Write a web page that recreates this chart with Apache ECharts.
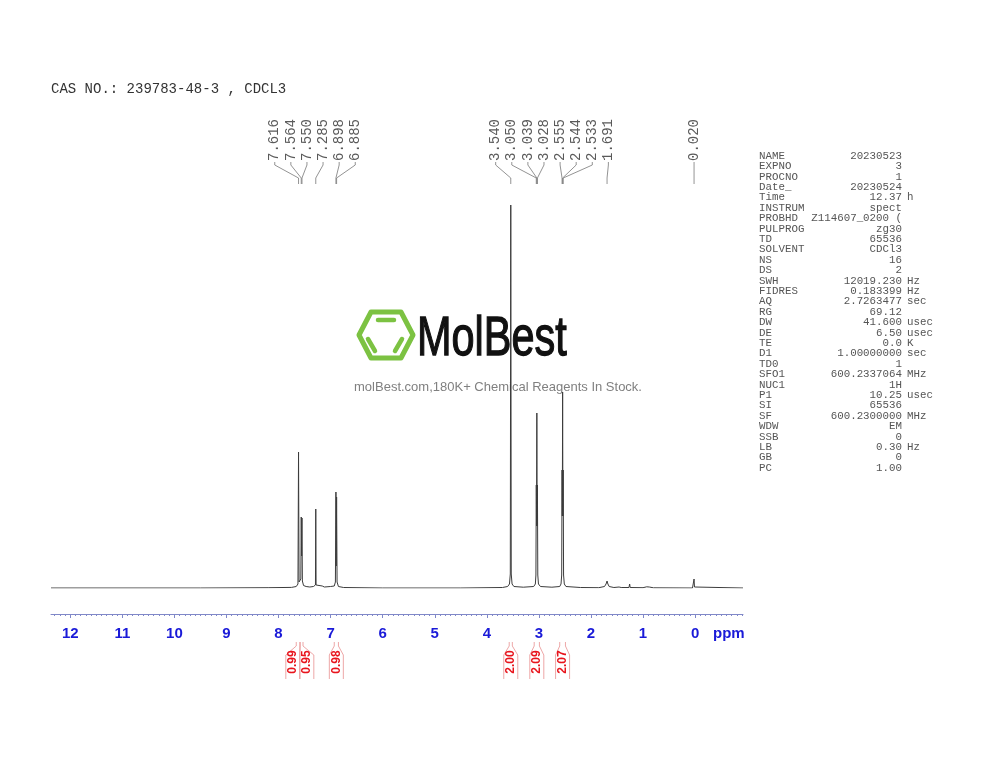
<!DOCTYPE html>
<html><head><meta charset="utf-8">
<script src="https://cdn.jsdelivr.net/npm/echarts@6/dist/echarts.min.js"></script>
<style>html,body{margin:0;padding:0;background:#fff}#c{width:1000px;height:773px}</style>
</head><body><div id="c"></div>
<script>
// ---------- data ----------
const titleText = 'CAS NO.: 239783-48-3 , CDCL3';
// spectrum points [ppm, intensity]
const spectrumPoints = [
  [12.37,0],[9.5,0],[8.2,0.3],[7.75,0.6],[7.66,1.5],[7.627,4],[7.616,136],[7.606,6],[7.585,4],[7.572,9],[7.564,71],[7.557,32],[7.550,70],[7.542,7],[7.52,2.5],
  [7.47,1.5],[7.44,2.5],[7.40,1],[7.33,1.5],[7.291,3],[7.285,79],[7.279,3],[7.25,1],[7.16,2],[7.12,1],[7.0,1.5],[6.93,2],[6.908,6],[6.898,96],[6.892,22],[6.885,91],[6.876,6],[6.85,1.5],[6.75,0.5],
  [6.0,0],[4.5,0],[3.7,0.5],[3.6,1.5],[3.565,4],[3.549,14],[3.540,383],[3.531,14],[3.515,4],[3.48,1.5],[3.30,0.8],
  [3.10,1.5],[3.068,4],[3.057,13],[3.050,103],[3.045,62],[3.039,175],[3.034,62],[3.028,103],[3.021,13],[3.008,4],[2.97,1.5],[2.75,0.8],
  [2.60,1.5],[2.575,4],[2.562,13],[2.555,118],[2.550,72],[2.544,196],[2.539,72],[2.533,118],[2.526,13],[2.512,4],[2.48,1.5],[2.2,0.5],
  [1.85,0.3],[1.74,1.5],[1.71,4],[1.691,7],[1.675,4],[1.65,1.5],[1.56,0.5],[1.46,1],[1.44,1.5],[1.42,0.5],[1.27,0.5],[1.257,4],[1.247,0.5],
  [1.0,0.3],[0.93,1.2],[0.88,1],[0.8,0.2],[0.05,0],[0.028,1],[0.020,9],[0.012,1],[-0.01,0],[-0.92,0]
];
const peakLabels = ['7.616','7.564','7.550','7.285','6.898','6.885','3.540','3.050','3.039','3.028','2.555','2.544','2.533','1.691','0.020'];
const integralLabels = ['0.99','0.95','0.98','2.00','2.09','2.07'];
const integralRanges = [[7.66,7.59],[7.585,7.53],[6.93,6.85],[3.57,3.51],[3.09,2.99],[2.60,2.49]];
const axisLabelValues = [0,1,2,3,4,5,6,7,8,9,10,11,12];
const axisUnit = 'ppm';
const paramNames = ['NAME','EXPNO','PROCNO','Date_','Time','INSTRUM','PROBHD','PULPROG','TD','SOLVENT','NS','DS','SWH','FIDRES','AQ','RG','DW','DE','TE','D1','TD0','SFO1','NUC1','P1','SI','SF','WDW','SSB','LB','GB','PC'];
const paramValues = ['20230523','3','1','20230524','12.37','spect','Z114607_0200 (','zg30','65536','CDCl3','16','2','12019.230','0.183399','2.7263477','69.12','41.600','6.50','0.0','1.00000000','1','600.2337064','1H','10.25','65536','600.2300000','EM','0','0.30','0','1.00'];
const paramUnits = ['','','','','h','','','','','','','','Hz','Hz','sec','','usec','usec','K','sec','','MHz','','usec','','MHz','','','Hz','',''];
const logoText = 'MolBest';
const logoSub = 'molBest.com,180K+ Chemical Reagents In Stock.';

// ---------- chart ----------
const minorTicks = [];
for (let i = -9; i <= 123; i++) minorTicks.push(i / 10);

const chart = echarts.init(document.getElementById('c'), null, {renderer: 'canvas'});
const axisColor = '#8088c8';
const baseX = {
  type: 'value', inverse: true, min: -0.92, max: 12.37, offset: 26, position: 'bottom', gridIndex: 0,
  splitLine: {show: false}
};
chart.setOption({
  animation: false,
  grid: {left: 51, right: 257, top: 188, bottom: 185, containLabel: false},
  xAxis: [
    Object.assign({}, baseX, {
      axisLine: {show: true, onZero: false, lineStyle: {color: axisColor, width: 1}},
      axisTick: {show: true, customValues: axisLabelValues, length: 4, lineStyle: {color: axisColor}},
      axisLabel: {show: true, customValues: axisLabelValues, margin: 12, color: '#1a1ad8',
        fontFamily: 'Liberation Sans', fontWeight: 'bold', fontSize: 15}
    }),
    Object.assign({}, baseX, {
      axisLine: {show: false, onZero: false},
      axisTick: {show: true, customValues: minorTicks, length: 2, lineStyle: {color: axisColor}},
      axisLabel: {show: false}
    })
  ],
  yAxis: {type: 'value', min: 0, max: 400, show: false},
  series: [{
    type: 'line', xAxisIndex: 0, data: spectrumPoints, showSymbol: false, symbol: 'none',
    lineStyle: {color: '#3c3c3c', width: 1}, z: 5, silent: true
  }]
});

function px(ppm) { return chart.convertToPixel({xAxisIndex: 0}, ppm); }

function spread(xs, gap) {
  let cl = xs.map(x => ({sum: x, n: 1, start: x}));
  let merged = true;
  while (merged) {
    merged = false;
    for (let i = 1; i < cl.length; i++) {
      const a = cl[i - 1], b = cl[i];
      if (a.start + a.n * gap > b.start) {
        const n = a.n + b.n, sum = a.sum + b.sum;
        cl.splice(i - 1, 2, {sum, n, start: sum / n - (n - 1) * gap / 2});
        merged = true; break;
      }
    }
  }
  const out = [];
  cl.forEach(c => { for (let k = 0; k < c.n; k++) out.push(c.start + k * gap); });
  return out;
}

const g = [];
// title
g.push({type: 'text', x: 51, y: 89, style: {text: titleText, font: '14px "Liberation Mono"', fill: '#333', verticalAlign: 'middle'}});

// peak labels
const peakX = peakLabels.map(s => px(parseFloat(s)));
const labX = spread(peakX, 16.1);
peakLabels.forEach((s, i) => {
  const lx = labX[i], p = peakX[i];
  g.push({type: 'text', x: lx, y: 161, rotation: Math.PI / 2,
    style: {text: s, font: '14px "Liberation Mono"', fill: '#5a5a5a', align: 'left', verticalAlign: 'middle'}});
  g.push({type: 'polyline', shape: {points: [[lx, 162], [lx, 165], [p, 178], [p, 184]]},
    style: {stroke: '#777', lineWidth: 0.8, fill: null}});
});

// integrals
const intC = integralRanges.map(r => (px(r[0]) + px(r[1])) / 2);
const intX = spread(intC, 14);
integralLabels.forEach((s, i) => {
  const x1 = px(integralRanges[i][0]), x2 = px(integralRanges[i][1]), c = intX[i];
  g.push({type: 'polyline', shape: {points: [[x1, 642], [x1, 646], [c - 7, 655], [c - 7, 679]]}, style: {stroke: '#e89090', lineWidth: 0.8, fill: null}});
  g.push({type: 'polyline', shape: {points: [[x2, 642], [x2, 646], [c + 7, 655], [c + 7, 679]]}, style: {stroke: '#e89090', lineWidth: 0.8, fill: null}});
  g.push({type: 'text', x: c, y: 662, rotation: Math.PI / 2,
    style: {text: s, font: 'bold 12px "Liberation Sans"', fill: '#e8141c', align: 'center', verticalAlign: 'middle'}});
});

// axis unit
g.push({type: 'text', x: 713, y: 634, style: {text: axisUnit, font: 'bold 15px "Liberation Sans"', fill: '#1a1ad8', verticalAlign: 'middle'}});

// parameter table
paramNames.forEach((n, i) => {
  const y = 156 + i * 10.4;
  g.push({type: 'text', x: 759, y, style: {text: n, font: '10.8px "Liberation Mono"', fill: '#555', verticalAlign: 'middle'}});
  g.push({type: 'text', x: 902, y, style: {text: paramValues[i], font: '10.8px "Liberation Mono"', fill: '#555', align: 'right', verticalAlign: 'middle'}});
  if (paramUnits[i]) g.push({type: 'text', x: 907, y, style: {text: paramUnits[i], font: '10.8px "Liberation Mono"', fill: '#555', verticalAlign: 'middle'}});
});

// watermark logo
const green = '#7cc242';
g.push({type: 'polygon', z: 1, shape: {points: [[359, 335], [371, 312], [401, 312], [413, 335], [401, 358], [371, 358]]},
  style: {stroke: green, lineWidth: 5, fill: null, lineJoin: 'round'}});
g.push({type: 'line', z: 1, shape: {x1: 378, y1: 320, x2: 394, y2: 320}, style: {stroke: green, lineWidth: 4.5, lineCap: 'round'}});
g.push({type: 'line', z: 1, shape: {x1: 368, y1: 339, x2: 375, y2: 351}, style: {stroke: green, lineWidth: 4.5, lineCap: 'round'}});
g.push({type: 'line', z: 1, shape: {x1: 402, y1: 339, x2: 395, y2: 351}, style: {stroke: green, lineWidth: 4.5, lineCap: 'round'}});
g.push({type: 'text', z: 1, x: 417, y: 340, scaleX: 0.74,
  style: {text: logoText, font: '56px "Liberation Sans"', fill: '#111', stroke: '#111', lineWidth: 1.3, verticalAlign: 'middle'}});
g.push({type: 'text', z: 1, x: 498, y: 387, style: {text: logoSub, font: '13px "Liberation Sans"', fill: '#808080', align: 'center', verticalAlign: 'middle'}});

chart.setOption({graphic: g});
</script></body></html>
